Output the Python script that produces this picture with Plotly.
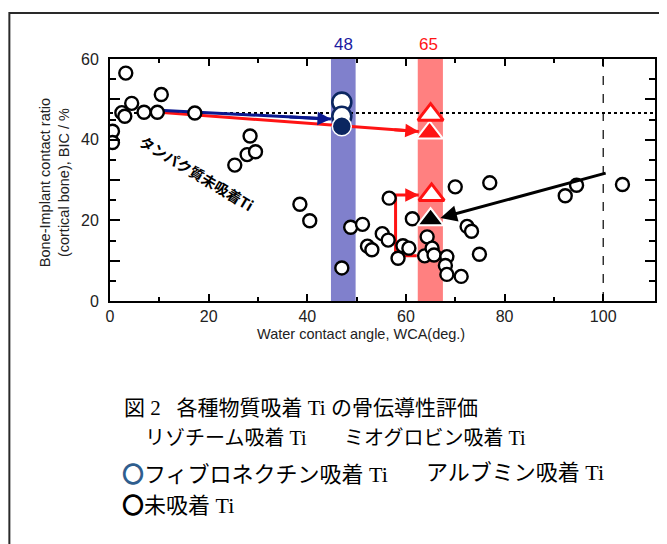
import plotly.graph_objects as go

# ---------------- data ----------------
# Untreated (protein-free) Ti: water contact angle vs BIC
wca_untreated = [3.2, 0.5, 0.5, 2.4, 3.0, 4.4, 6.9, 9.6, 10.4, 17.2,
                 28.4, 27.8, 29.5, 25.3, 38.5, 40.5,
                 47.0, 48.8, 51.2, 52.2, 53.1, 55.2, 56.4, 56.6, 58.4, 59.4,
                 60.6, 61.3, 63.8, 64.3, 65.3, 65.7, 68.3, 68.0, 68.3, 71.2,
                 70.0, 72.4, 73.3, 74.9, 77.0, 92.3, 94.6, 103.9]
bic_untreated = [56.5, 42.1, 39.3, 46.7, 45.8, 49.0, 46.8, 46.8, 51.2, 46.6,
                 40.9, 36.3, 37.0, 33.7, 24.0, 19.9,
                 8.2, 18.3, 19.0, 13.6, 12.7, 16.7, 15.1, 25.5, 10.6, 13.7,
                 13.1, 20.4, 11.2, 15.9, 13.1, 11.4, 11.0, 8.8, 6.6, 6.1,
                 28.3, 18.5, 17.3, 11.6, 29.3, 26.1, 28.7, 28.9]

# Protein-adsorbed Ti at WCA ~48 (circles)
wca_circle_open = [47.0, 47.0]
bic_circle_open = [49.3, 45.8]
wca_circle_filled = [47.0]
bic_circle_filled = [43.3]

# Protein-adsorbed Ti at WCA ~65 (triangles)
wca_tri_open = [65.0, 65.2]
bic_tri_open = [46.2, 26.3]
wca_tri_red = [64.8]
bic_tri_red = [41.7]
wca_tri_black = [65.0]
bic_tri_black = [20.2]

# highlighted WCA bands
band_lo = [44.8, 62.4]
band_hi = [49.8, 67.5]
band_labels = ["48", "65"]
band_label_x = [47.3, 64.6]

# reference lines
bic_ref = 46.6
wca_ref = 100

# arrows  (start x, start y) -> (end x, end y)
blue_arrow = ([10.0, 44.8], [47.3, 45.1])
red_arrow = ([10.0, 62.6], [46.8, 42.0])
bracket_x = [62.2, 57.9, 57.9, 62.6]
bracket_y = [11.2, 11.2, 26.3, 26.3]
black_arrow = ([100.8, 67.0], [31.8, 20.6])

# ---------------- geometry helpers ----------------
# the page body has an 8px margin; figure is sized so the page is 667x544
OFF = 8
W, H = 667 - OFF, 544 - OFF
L, R, T, B = 110, 657, 59, 301   # plot-area edges in page pixels


def px(x):
    return (x - L) / (R - L)


def py(y):
    return (B - y) / (B - T)


NAVY = "#0B2660"
BLUE = "#0B1890"
RED = "#FF1414"

fig = go.Figure()

# line traces (under markers)
fig.add_trace(go.Scatter(x=red_arrow[0], y=red_arrow[1], mode="lines",
                         line=dict(color=RED, width=3), hoverinfo="skip"))
fig.add_trace(go.Scatter(x=blue_arrow[0], y=blue_arrow[1], mode="lines",
                         line=dict(color=BLUE, width=3), hoverinfo="skip"))
fig.add_trace(go.Scatter(x=bracket_x, y=bracket_y, mode="lines",
                         line=dict(color=RED, width=3), hoverinfo="skip"))

# untreated circles
fig.add_trace(go.Scatter(x=wca_untreated, y=bic_untreated, mode="markers",
                         marker=dict(symbol="circle", size=13, color="white",
                                     line=dict(color="black", width=2.4))))

# blue-band circles
fig.add_trace(go.Scatter(x=wca_circle_open, y=bic_circle_open, mode="markers",
                         marker=dict(symbol="circle", size=19, color="white",
                                     line=dict(color=NAVY, width=2.6))))
fig.add_trace(go.Scatter(x=wca_circle_filled, y=bic_circle_filled, mode="markers",
                         marker=dict(symbol="circle", size=19, color=NAVY,
                                     line=dict(color="white", width=1.5))))

# triangles
fig.add_trace(go.Scatter(x=wca_tri_red, y=bic_tri_red, mode="markers",
                         marker=dict(symbol="triangle-up", size=23, color=RED,
                                     line=dict(color="white", width=2))))
fig.add_trace(go.Scatter(x=wca_tri_open, y=bic_tri_open, mode="markers",
                         marker=dict(symbol="triangle-up", size=22, color="white",
                                     line=dict(color=RED, width=3))))
fig.add_trace(go.Scatter(x=wca_tri_black, y=bic_tri_black, mode="markers",
                         marker=dict(symbol="triangle-up", size=23, color="black",
                                     line=dict(color="white", width=2))))

shapes = []
for lo, hi, col in zip(band_lo, band_hi, ["#8080CC", "#FF8080"]):
    shapes.append(dict(type="rect", xref="x", yref="y", x0=lo, x1=hi, y0=0, y1=60,
                       fillcolor=col, line=dict(width=0), layer="below"))
shapes.append(dict(type="line", xref="x", yref="y", x0=0, x1=110.5, y0=bic_ref, y1=bic_ref,
                   line=dict(color="black", width=2, dash="dot"), layer="below"))
shapes.append(dict(type="line", xref="x", yref="y", x0=wca_ref, x1=wca_ref, y0=0, y1=60,
                   line=dict(color="black", width=1.2, dash="dash"), layer="below"))
# outer frame
shapes.append(dict(type="rect", xref="paper", yref="paper",
                   x0=px(9), x1=px(700), y0=py(13), y1=py(600),
                   line=dict(color="#2A2A2A", width=2), fillcolor="rgba(0,0,0,0)"))

annotations = []


def head(xs, ys, color, frac, size):
    x0, x1 = xs
    y0, y1 = ys
    annotations.append(dict(x=x1, y=y1, xref="x", yref="y",
                            ax=x1 - frac * (x1 - x0), ay=y1 - frac * (y1 - y0),
                            axref="x", ayref="y", text="", showarrow=True,
                            arrowhead=2, arrowsize=size, arrowwidth=3,
                            arrowcolor=color, standoff=0, startstandoff=0))


head(blue_arrow[0], blue_arrow[1], BLUE, 0.25, 0.9)
head(red_arrow[0], red_arrow[1], RED, 0.1, 0.9)
head(bracket_x[2:], bracket_y[2:], RED, 0.6, 0.9)
head(black_arrow[0], black_arrow[1], "black", 1.0, 1.1)

for lab, bx, col in zip(band_labels, band_label_x, ["#1A1AA0", "#FF1414"]):
    annotations.append(dict(x=bx, y=py(45), xref="x", yref="paper", text=lab,
                            showarrow=False, xanchor="center", yanchor="middle",
                            font=dict(family="Liberation Sans, Arial", size=17, color=col)))

annotations.append(dict(x=17.5, y=31.8, xref="x", yref="y", text="<b>タンパク質未吸着Ti</b>",
                        showarrow=False, textangle=31,
                        font=dict(family="Noto Sans CJK JP", size=14.5, color="black")))

# axis titles
annotations.append(dict(x=px(362), y=py(334), xref="paper", yref="paper",
                        text="Water contact angle, WCA(deg.)", showarrow=False,
                        xanchor="center", yanchor="middle",
                        font=dict(family="Liberation Sans, Arial", size=14.5, color="#222")))
annotations.append(dict(x=px(54), y=py(183), xref="paper", yref="paper",
                        text="Bone-Implant contact ratio<br>(cortical bone), BIC / %",
                        showarrow=False, textangle=-90, xanchor="center", yanchor="middle",
                        font=dict(family="Liberation Sans, Arial", size=14.5, color="#222")))

# caption
CAP = "Liberation Serif, Noto Sans CJK JP"
RING = "<span style='font-family:Noto Sans CJK JP'><b>〇</b></span>"
BLUE_RING = "<span style='font-family:Noto Sans CJK JP;color:#2F5E8E'><b>〇</b></span>"
cap = [
    (122, 408, "図 2\u00a0\u00a0\u00a0各種物質吸着 Ti の骨伝導性評価", 21),
    (143, 438, "リゾチーム吸着 Ti", 20),
    (343, 438, "ミオグロビン吸着 Ti", 20),
    (120, 472, BLUE_RING + "フィブロネクチン吸着 Ti", 22),
    (425, 472, "アルブミン吸着 Ti", 22),
    (120, 503, RING + "未吸着 Ti", 22),
]
for x, y, t, s in cap:
    annotations.append(dict(x=px(x), y=py(y), xref="paper", yref="paper", text=t,
                            showarrow=False, xanchor="left", yanchor="middle",
                            font=dict(family=CAP, size=s, color="black")))

axis_font = dict(family="Liberation Sans, Arial", size=16, color="#222")

fig.update_layout(
    width=W, height=H,
    margin=dict(l=L - OFF, r=667 - R, t=T - OFF, b=544 - B),
    paper_bgcolor="white", plot_bgcolor="white",
    showlegend=False,
    shapes=shapes, annotations=annotations,
    xaxis=dict(range=[0, 110.5], tickmode="array", tickvals=[0, 20, 40, 60, 80, 100],
               ticks="inside", ticklen=7, tickwidth=2, tickcolor="black",
               showline=True, linewidth=2, linecolor="black", mirror="allticks",
               showgrid=False, zeroline=False, tickfont=axis_font,
               minor=dict(tickmode="array", tickvals=[10, 30, 50, 70, 90],
                          ticks="inside", ticklen=4, tickwidth=2, tickcolor="black")),
    yaxis=dict(range=[0, 60], tickmode="array", tickvals=[0, 10, 20, 30, 40, 50, 60],
               ticktext=["0", "", "20", "", "40", "", "60"],
               ticks="inside", ticklen=10, tickwidth=2, tickcolor="black",
               showline=True, linewidth=2, linecolor="black", mirror="allticks",
               showgrid=False, zeroline=False, tickfont=axis_font, ticklabelstandoff=6,
               minor=dict(tickmode="array", tickvals=[5, 15, 25, 35, 45, 55],
                          ticks="inside", ticklen=6, tickwidth=2, tickcolor="black")),
)

fig.write_html("out.html")
